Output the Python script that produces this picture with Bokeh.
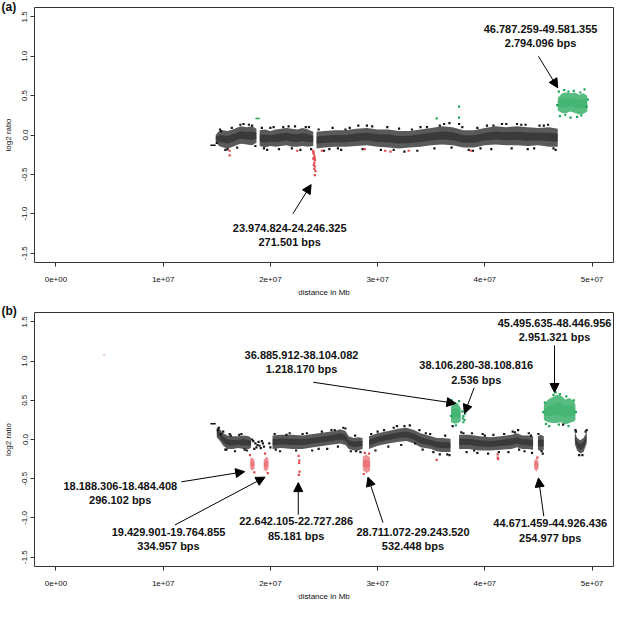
from bokeh.plotting import figure
from bokeh.layouts import column
from bokeh.models import Range1d, FixedTicker, Arrow, NormalHead, Title
from bokeh.core.properties import value
from bokeh.embed import file_html
from bokeh.resources import INLINE

FONT = "Liberation Sans"
BLACK = "#141414"
GREEN = "#1fa557"
RED = "#e4474c"

X_TICKS = [0, 10, 20, 30, 40, 50]
X_TICK_LABELS = ["0e+00", "1e+07", "2e+07", "3e+07", "4e+07", "5e+07"]
Y_TICKS = [-1.5, -1.0, -0.5, 0.0, 0.5, 1.0, 1.5]
Y_TICK_LABELS = ["-1.5", "-1.0", "-0.5", "0.0", "0.5", "1.0", "1.5"]

# ---------------- panel (a) : x in Mb, envelopes of the dense point clouds ----------------
A_SEG1_X = [14.9, 15.2, 15.6, 16.0, 16.5, 17.0, 17.3, 17.8, 18.3, 18.7]
A_SEG1_HI = [0.0, 0.05, 0.06, 0.05, 0.07, 0.1, 0.11, 0.1, 0.11, 0.08]
A_SEG1_LO = [-0.08, -0.14, -0.16, -0.17, -0.15, -0.12, -0.11, -0.12, -0.13, -0.1]
A_SEG2_X = [19.0, 19.5, 20.0, 20.5, 21.0, 21.5, 22.0, 22.5, 23.0, 23.5, 24.0]
A_SEG2_HI = [0.06, 0.07, 0.05, 0.07, 0.08, 0.09, 0.08, 0.07, 0.09, 0.07, 0.04]
A_SEG2_LO = [-0.14, -0.16, -0.14, -0.15, -0.14, -0.13, -0.15, -0.15, -0.14, -0.15, -0.14]
A_SEG3_X = [24.3, 25, 26, 27, 28, 29, 30, 31, 32, 33, 34, 35, 36, 37, 38, 39, 40, 41, 42, 43, 44, 45, 46, 46.8]
A_SEG3_HI = [0.04, 0.05, 0.06, 0.06, 0.08, 0.09, 0.07, 0.07, 0.05, 0.05, 0.07, 0.09, 0.11, 0.1, 0.06, 0.06, 0.09, 0.11, 0.1, 0.11, 0.1, 0.09, 0.1, 0.08]
A_SEG3_LO = [-0.17, -0.16, -0.15, -0.15, -0.14, -0.13, -0.15, -0.16, -0.17, -0.16, -0.15, -0.13, -0.12, -0.13, -0.16, -0.16, -0.13, -0.12, -0.13, -0.13, -0.14, -0.13, -0.15, -0.15]
A_GREEN_X = [46.8, 47.2, 47.6, 48.0, 48.4, 48.8, 49.2, 49.55]
A_GREEN_HI = [0.47, 0.53, 0.54, 0.53, 0.54, 0.51, 0.53, 0.5]
A_GREEN_LO = [0.31, 0.28, 0.28, 0.3, 0.28, 0.26, 0.27, 0.3]

A_BLACK_PTS_X = [17.2, 18.3, 20.0, 21.7, 23.3, 22.0, 25.5, 27.0, 29.0, 31.5, 34.0, 35.8, 36.7, 37.6, 38.5,
                 40.8, 42.0, 44.0, 45.5, 46.4, 16.0, 19.4, 15.4, 26.3, 33.2, 39.6, 43.4,
                 15.0, 15.3, 15.8, 16.4, 16.9, 17.5, 18.0, 18.6, 19.2, 19.7, 20.3, 20.8, 21.2, 22.3,
                 22.8, 23.6, 23.8, 24.5, 25.0, 25.8, 26.6, 27.4, 28.2, 28.6, 29.5, 30.3, 30.9, 32.0,
                 32.5, 33.7, 34.6, 35.3, 36.2, 36.9, 37.9, 38.9, 39.3, 40.2, 40.6, 41.6, 42.5, 43.0,
                 43.8, 44.6, 45.1, 45.9, 46.6]
A_BLACK_PTS_Y = [0.13, 0.12, 0.09, 0.11, 0.1, -0.17, -0.18, 0.07, 0.12, -0.19, 0.1, 0.12, 0.15, 0.14, -0.19,
                 0.12, 0.14, -0.18, 0.12, -0.17, -0.18, -0.17, 0.05, -0.17, 0.07, -0.17, 0.13,
                 -0.1, 0.07, -0.19, 0.09, -0.16, 0.14, 0.13, -0.14, 0.09, -0.19, 0.1, -0.18, 0.1, 0.11,
                 -0.19, 0.1, -0.18, 0.07, -0.2, 0.09, -0.19, 0.09, 0.12, -0.18, 0.11, -0.19, 0.1, 0.08,
                 -0.21, -0.2, 0.1, -0.17, 0.14, -0.16, 0.1, -0.2, 0.09, 0.12, -0.18, 0.14, -0.17, 0.14,
                 0.13, -0.17, 0.12, 0.13, -0.19]
A_GREEN_PTS_X = [35.5, 37.6, 37.6, 46.9, 47.4, 48.3, 49.3, 47.0, 48.0, 49.0, 49.5, 47.8, 48.6, 46.75, 49.6, 48.9, 47.5]
A_GREEN_PTS_Y = [0.21, 0.36, 0.22, 0.55, 0.57, 0.56, 0.58, 0.24, 0.22, 0.25, 0.36, 0.55, 0.23, 0.38, 0.45, 0.54, 0.26]
A_RED_PTS_X = [24.0, 24.05, 24.1, 24.0, 24.15, 24.1, 24.05, 24.15, 24.1, 24.2, 24.15, 24.0, 24.12,
               16.2, 16.2, 22.5, 24.8, 28.8, 30.7, 31.2, 32.9, 38.7]
A_RED_PTS_Y = [-0.2, -0.24, -0.27, -0.3, -0.32, -0.35, -0.38, -0.4, -0.43, -0.46, -0.51, -0.22, -0.29,
               -0.26, -0.2, -0.2, -0.2, -0.18, -0.2, -0.21, -0.2, -0.2]
A_DASH_BLACK = [14.4, 14.9, -0.13]
A_DASH_GREEN = [18.6, 19.0, 0.21]

A_LABELS = ["23.974.824-24.246.325\n271.501 bps", "46.787.259-49.581.355\n2.794.096 bps"]
A_LABEL_X = [21.8, 45.2]
A_LABEL_Y = [-1.27, 1.255]
A_ARROW_X0 = [22.1, 45.0]
A_ARROW_Y0 = [-1.0, 1.0]
A_ARROW_X1 = [23.8, 46.8]
A_ARROW_Y1 = [-0.63, 0.6]

# ---------------- panel (b) ----------------
B_SEG1_X = [15.0, 15.3, 15.6, 16.0, 16.5, 17.0, 17.5, 18.0, 18.2]
B_SEG1_HI = [0.16, 0.13, 0.08, 0.05, 0.04, 0.04, 0.05, 0.04, 0.02]
B_SEG1_LO = [0.03, -0.02, -0.08, -0.12, -0.12, -0.11, -0.12, -0.12, -0.1]
B_SEG2_X = [20.2, 21, 22, 23, 24, 25, 26, 26.5, 27.0, 27.3, 27.8, 28.2, 28.6]
B_SEG2_HI = [0.05, 0.06, 0.06, 0.05, 0.07, 0.09, 0.11, 0.13, 0.11, 0.04, 0.02, 0.03, 0.02]
B_SEG2_LO = [-0.12, -0.11, -0.12, -0.12, -0.1, -0.08, -0.06, -0.05, -0.07, -0.12, -0.14, -0.14, -0.12]
B_SEG3_X = [29.2, 30, 31, 32, 32.7, 33.4, 34, 35, 35.5, 36.0, 36.8]
B_SEG3_HI = [0.04, 0.08, 0.11, 0.14, 0.15, 0.12, 0.08, 0.04, 0.02, 0.02, 0.01]
B_SEG3_LO = [-0.12, -0.08, -0.05, -0.03, -0.02, -0.05, -0.1, -0.12, -0.15, -0.16, -0.16]
B_SEG4_X = [37.6, 38.5, 39.5, 40.5, 41.5, 42.5, 43.0, 43.5, 44.0, 44.5]
B_SEG4_HI = [0.06, 0.06, 0.04, 0.03, 0.04, 0.06, 0.08, 0.05, 0.05, 0.04]
B_SEG4_LO = [-0.12, -0.12, -0.14, -0.14, -0.13, -0.12, -0.1, -0.12, -0.12, -0.13]
B_SEG5_X = [44.95, 45.2, 45.5]
B_SEG5_HI = [0.04, 0.06, 0.04]
B_SEG5_LO = [-0.13, -0.15, -0.13]
B_SEG6_X = [48.4, 48.6, 48.9, 49.2, 49.5]
B_SEG6_HI = [0.1, 0.02, -0.01, 0.02, 0.1]
B_SEG6_LO = [-0.06, -0.14, -0.18, -0.16, -0.05]
B_GREEN_A_X = [36.85, 37.2, 37.5, 37.75]
B_GREEN_A_HI = [0.42, 0.48, 0.46, 0.4]
B_GREEN_A_LO = [0.22, 0.2, 0.21, 0.23]
B_GREEN_C_X = [45.5, 45.9, 46.3, 46.7, 47.1, 47.5, 47.9, 48.3, 48.45]
B_GREEN_C_HI = [0.44, 0.51, 0.54, 0.57, 0.56, 0.51, 0.53, 0.49, 0.44]
B_GREEN_C_LO = [0.25, 0.22, 0.21, 0.21, 0.22, 0.19, 0.21, 0.23, 0.25]
B_RED1_X = [18.12, 18.3, 18.52]
B_RED1_HI = [-0.24, -0.23, -0.26]
B_RED1_LO = [-0.37, -0.4, -0.37]
B_RED2_X = [19.38, 19.6, 19.82]
B_RED2_HI = [-0.26, -0.22, -0.24]
B_RED2_LO = [-0.38, -0.41, -0.37]
B_RED4_X = [28.62, 28.95, 29.3]
B_RED4_HI = [-0.22, -0.19, -0.23]
B_RED4_LO = [-0.39, -0.43, -0.4]
B_RED5_X = [44.6, 44.8, 45.0]
B_RED5_HI = [-0.27, -0.24, -0.28]
B_RED5_LO = [-0.37, -0.41, -0.37]

B_BLACK_PTS_X = [18.4, 18.6, 18.7, 18.9, 19.0, 19.1, 19.3, 18.5, 19.2, 18.8, 18.3, 19.4,
                 15.2, 15.6, 16.3, 17.1, 15.9, 17.6, 20.5, 21.5, 23.0, 24.5, 26.0, 27.0, 28.0,
                 30.0, 31.5, 32.5, 33.5, 34.5, 35.2, 36.5, 38.0, 39.0, 40.0, 41.3, 42.8, 43.2,
                 44.3, 45.3, 48.5, 49.4, 47.3, 37.0, 19.9, 20.0,
                 15.1, 15.4, 15.8, 16.2, 16.7, 17.3, 17.8, 20.4, 20.9, 21.8, 22.4, 23.4, 23.9, 24.8,
                 25.3, 25.7, 26.3, 26.8, 27.5, 27.9, 28.4, 29.4, 29.8, 30.6, 31.0, 31.8, 32.2, 33.0,
                 33.9, 34.2, 34.9, 35.8, 36.3, 36.7, 37.8, 38.3, 38.8, 39.3, 39.8, 40.3, 40.8, 41.8,
                 42.2, 42.6, 43.1, 43.7, 44.1, 44.4, 45.0, 45.4, 48.45, 48.8, 49.1, 49.5]
B_BLACK_PTS_Y = [-0.02, -0.05, -0.1, -0.03, -0.08, -0.11, -0.05, -0.12, -0.02, -0.07, 0.0, -0.09,
                 0.15, 0.1, 0.05, 0.06, -0.13, -0.13, -0.13, 0.06, 0.07, -0.12, 0.12, 0.14, -0.15,
                 0.1, 0.15, 0.17, -0.05, 0.08, -0.16, -0.19, 0.08, -0.14, 0.05, -0.16, 0.09, -0.13,
                 0.05, -0.15, 0.1, 0.1, 0.19, 0.17, -0.05, -0.1,
                 0.12, 0.07, -0.13, 0.07, -0.15, 0.07, -0.14, 0.07, -0.15, 0.08, -0.14, 0.08, -0.14, 0.1,
                 -0.12, 0.12, -0.09, 0.15, -0.15, 0.05, -0.16, 0.07, -0.14, 0.12, -0.09, 0.17, -0.07, 0.18,
                 0.12, -0.13, 0.07, -0.19, 0.05, -0.2, 0.09, -0.16, 0.08, -0.17, 0.07, -0.18, 0.06, 0.07,
                 -0.16, 0.1, 0.12, -0.15, 0.08, -0.17, 0.07, -0.18, 0.12, -0.2, -0.2, 0.12]
B_GREEN_PTS_X = [36.9, 37.6, 37.9, 38.0, 38.1, 38.0, 38.15, 37.95, 46.6, 47.0, 45.6, 48.3, 46.0, 47.8, 46.9, 45.7,
                 36.85, 37.3, 45.45, 48.5, 46.4, 47.6]
B_GREEN_PTS_Y = [0.5, 0.49, 0.36, 0.3, 0.25, 0.22, 0.33, 0.27, 0.6, 0.58, 0.47, 0.5, 0.17, 0.17, 0.19, 0.2,
                 0.3, 0.18, 0.35, 0.35, 0.57, 0.55]
B_RED_PTS_X = [22.64, 22.7, 22.68, 22.72, 22.66, 18.1, 19.5, 35.5, 41.2, 41.2, 41.25, 28.8, 18.5, 19.75, 28.7, 29.2, 44.9]
B_RED_PTS_Y = [-0.21, -0.27, -0.3, -0.41, -0.45, -0.2, -0.18, -0.26, -0.19, -0.23, -0.25, -0.17, -0.42, -0.43, -0.44, -0.18, -0.23]
B_FAINT_PT = [4.5, 1.08]
B_DASH_BLACK = [14.4, 14.9, 0.2]

B_LABELS = ["18.188.306-18.484.408\n296.102 bps", "19.429.901-19.764.855\n334.957 bps",
            "22.642.105-22.727.286\n85.181 bps", "28.711.072-29.243.520\n532.448 bps",
            "44.671.459-44.926.436\n254.977 bps", "36.885.912-38.104.082\n1.218.170 bps",
            "38.106.280-38.108.816\n2.536 bps", "45.495.635-48.446.956\n2.951.321 bps"]
B_LABEL_X = [6.0, 10.5, 22.4, 33.3, 46.1, 22.9, 39.2, 46.5]
B_LABEL_Y = [-0.68, -1.27, -1.135, -1.27, -1.16, 0.985, 0.855, 1.40]
B_ARROW_X0 = [11.7, 11.1, 22.6, 30.5, 45.5, 24.0, 39.0, 46.5]
B_ARROW_Y0 = [-0.54, -1.09, -0.96, -1.06, -0.98, 0.73, 0.66, 1.2]
B_ARROW_X1 = [17.6, 19.5, 22.6, 29.1, 45.0, 37.3, 38.1, 46.5]
B_ARROW_Y1 = [-0.41, -0.48, -0.55, -0.48, -0.49, 0.46, 0.33, 0.6]


def make_fig(height, top, tag, tag_standoff, black_bands, green_bands, red_bands, pts, dashes,
             labels, lx, ly, ax0, ay0, ax1, ay1):
    p = figure(width=615, height=height, output_backend="svg", toolbar_location=None,
               x_range=Range1d(-2.0, 52.0), y_range=Range1d(-1.62, 1.62),
               min_border_left=33, min_border_right=2, min_border_top=top, min_border_bottom=35)
    # panel tag "(a)" / "(b)" at the upper-left corner, outside the plot box
    p.title = Title(text=tag, align="left", offset=-33, standoff=tag_standoff,
                    text_font=FONT, text_font_style="bold", text_font_size="12px",
                    text_color="#111111")
    p.grid.visible = False
    p.outline_line_color = "#333333"
    p.outline_line_width = 1

    for ax in (p.xaxis[0], p.yaxis[0]):
        ax.axis_line_color = None
        ax.major_tick_line_color = "#333333"
        ax.minor_tick_line_color = None
        ax.major_tick_in = 0
        ax.major_tick_out = 4
        ax.major_label_text_font = FONT
        ax.major_label_text_font_size = "8px"
        ax.major_label_text_color = "#111111"
        ax.axis_label_text_font = FONT
        ax.axis_label_text_font_size = "8px"
        ax.axis_label_text_font_style = "normal"
        ax.axis_label_text_color = "#111111"
    p.xaxis.ticker = FixedTicker(ticks=X_TICKS)
    p.xaxis.major_label_overrides = dict(zip(X_TICKS, X_TICK_LABELS))
    p.xaxis.major_label_standoff = 10
    p.xaxis.axis_label = "distance in Mb"
    p.xaxis.axis_label_standoff = 3
    p.yaxis.ticker = FixedTicker(ticks=Y_TICKS)
    p.yaxis.major_label_overrides = dict(zip(Y_TICKS, Y_TICK_LABELS))
    p.yaxis.major_label_orientation = "vertical"
    p.yaxis.major_label_standoff = 3
    p.yaxis.axis_label = "log2 ratio"
    p.yaxis.axis_label_standoff = 7

    def cloud(xs, lo, hi, color, a_out, a_in):
        # outer envelope, then the denser middle part of the cloud
        p.varea(x=xs, y1=lo, y2=hi, fill_color=color, fill_alpha=a_out)
        lo_in = [l + 0.28 * (h - l) for l, h in zip(lo, hi)]
        hi_in = [h - 0.28 * (h - l) for l, h in zip(lo, hi)]
        p.varea(x=xs, y1=lo_in, y2=hi_in, fill_color=color, fill_alpha=a_in)

    for xs, lo, hi in black_bands:
        cloud(xs, lo, hi, BLACK, 0.7, 0.45)
    for xs, lo, hi in green_bands:
        cloud(xs, lo, hi, GREEN, 0.75, 0.3)
    for xs, lo, hi in red_bands:
        cloud(xs, lo, hi, RED, 0.6, 0.35)

    for xs, ys, color in pts:
        p.scatter(x=xs, y=ys, size=2.2, marker="square", fill_color=color, line_color=None)

    for x0, x1, yv, color in dashes:
        p.segment(x0=[x0], y0=[yv], x1=[x1], y1=[yv], line_color=color, line_width=1.5)

    for i in range(len(ax0)):
        p.add_layout(Arrow(end=NormalHead(size=9, fill_color="black", line_color="black"),
                           x_start=ax0[i], y_start=ay0[i], x_end=ax1[i], y_end=ay1[i],
                           line_color="black", line_width=1))

    p.text(x=lx, y=ly, text=labels, text_font=value(FONT), text_font_style="bold",
           text_font_size="11px", text_align="center", text_baseline="middle",
           text_line_height=1.2, text_color="#111111")
    return p


pa = make_fig(
    299, 7, "(a)", -12,
    [(A_SEG1_X, A_SEG1_LO, A_SEG1_HI), (A_SEG2_X, A_SEG2_LO, A_SEG2_HI), (A_SEG3_X, A_SEG3_LO, A_SEG3_HI)],
    [(A_GREEN_X, A_GREEN_LO, A_GREEN_HI)],
    [],
    [(A_BLACK_PTS_X, A_BLACK_PTS_Y, BLACK), (A_GREEN_PTS_X, A_GREEN_PTS_Y, GREEN), (A_RED_PTS_X, A_RED_PTS_Y, RED)],
    [(A_DASH_BLACK[0], A_DASH_BLACK[1], A_DASH_BLACK[2], BLACK), (A_DASH_GREEN[0], A_DASH_GREEN[1], A_DASH_GREEN[2], GREEN)],
    A_LABELS, A_LABEL_X, A_LABEL_Y, A_ARROW_X0, A_ARROW_Y0, A_ARROW_X1, A_ARROW_Y1)

pb = make_fig(
    304, 13, "(b)", -11,
    [(B_SEG1_X, B_SEG1_LO, B_SEG1_HI), (B_SEG2_X, B_SEG2_LO, B_SEG2_HI), (B_SEG3_X, B_SEG3_LO, B_SEG3_HI),
     (B_SEG4_X, B_SEG4_LO, B_SEG4_HI), (B_SEG5_X, B_SEG5_LO, B_SEG5_HI), (B_SEG6_X, B_SEG6_LO, B_SEG6_HI)],
    [(B_GREEN_A_X, B_GREEN_A_LO, B_GREEN_A_HI), (B_GREEN_C_X, B_GREEN_C_LO, B_GREEN_C_HI)],
    [(B_RED1_X, B_RED1_LO, B_RED1_HI), (B_RED2_X, B_RED2_LO, B_RED2_HI), (B_RED4_X, B_RED4_LO, B_RED4_HI),
     (B_RED5_X, B_RED5_LO, B_RED5_HI)],
    [(B_BLACK_PTS_X, B_BLACK_PTS_Y, BLACK), (B_GREEN_PTS_X, B_GREEN_PTS_Y, GREEN), (B_RED_PTS_X, B_RED_PTS_Y, RED),
     ([B_FAINT_PT[0]], [B_FAINT_PT[1]], "#f5d5c0")],
    [(B_DASH_BLACK[0], B_DASH_BLACK[1], B_DASH_BLACK[2], BLACK)],
    B_LABELS, B_LABEL_X, B_LABEL_Y, B_ARROW_X0, B_ARROW_Y0, B_ARROW_X1, B_ARROW_Y1)

layout = column(pa, pb, spacing=0)
open("out.html", "w").write(file_html(layout, INLINE))
